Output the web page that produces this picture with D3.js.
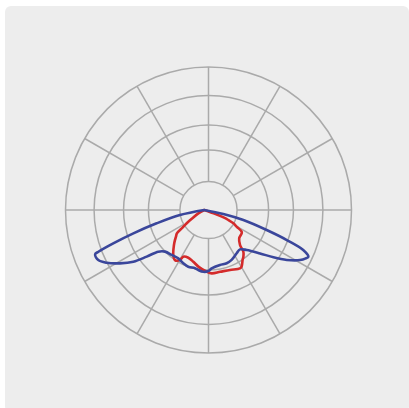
<!DOCTYPE html>
<html>
<head>
<meta charset="utf-8">
<script src="https://cdn.jsdelivr.net/npm/d3@7"></script>
<style>
  html, body { margin: 0; padding: 0; background: #ffffff; }
  svg { display: block; }
</style>
</head>
<body>
<div id="chart"></div>
<script>
// ---- data ----
// ring values (radial axis) and spoke angles (degrees, 0 = straight down)
const ringValues = [100, 210, 297, 400, 500];
const spokeAngles = [0, 30, 60, 90, 120, 150, 180, 210, 240, 270, 300, 330];

// blue series: angle (deg, 0 = down, + = right) and intensity
const blueAngles = [-90, -78.4, -74.4, -71.8, -69.9, -68.5, -67.9, -64.7, -61.6, -57.7, -53.9, -51, -47.8, -43.3, -35.9, -28.3, -21.5, -15.8, -9.1, -5.7, -0.9, 3.8, 7.2, 15.9, 22.8, 28.7, 36.8, 42.2, 46.7, 52.1, 55.6, 58.8, 62.4, 64.5, 65.8, 68, 70, 72.2, 75.6, 78.1, 90];
const blueValues = [0, 87, 173, 261, 339, 398, 412, 410, 388, 349, 307, 259, 217, 200, 194, 192, 200, 206, 206, 211, 216, 214, 206, 200, 202, 199, 189, 186, 204, 247, 293, 337, 378, 393, 399, 373, 307, 229, 141, 68, 0];

// red series
const redAngles = [-90, -60, -55, -53, -51, -49.5, -46.7, -44.3, -40.9, -34.6, -30.4, -25.9, -24.2, -18.5, -12, -6, 2.2, 6.7, 14.3, 23.2, 31.5, 33.4, 37.5, 39.9, 43.1, 45.6, 51, 58.1, 59.9, 62.7, 65.4, 67.4, 69, 70, 90];
const redValues = [0, 24, 52, 77, 98, 126, 136, 147, 162, 191, 203, 194, 179, 176, 185, 199, 216, 223, 223, 228, 239, 237, 220, 213, 200, 175, 157, 154, 151, 128, 112, 91, 70, 42, 0];

// ---- layout ----
const W = 409, H = 408;
const cx = 208.5, cy = 210;
const curveOffsetX = -4.2; // curve origin sits slightly left of the grid centre
const outerR = 143;

const svg = d3.select("#chart").append("svg")
  .attr("width", W).attr("height", H);

svg.append("rect")
  .attr("x", 5).attr("y", 6)
  .attr("width", 404).attr("height", 406)
  .attr("rx", 6).attr("ry", 6)
  .attr("fill", "#ededed");

const r = d3.scaleLinear().domain([0, 500]).range([0, outerR]);
const toRad = d => (180 - d) * Math.PI / 180; // 0 deg = down, + to the right

const grid = svg.append("g").attr("transform", `translate(${cx},${cy})`);

grid.selectAll("circle.ring").data(ringValues).join("circle")
  .attr("class", "ring")
  .attr("r", d => r(d))
  .attr("fill", "none")
  .attr("stroke", "#aaaaaa")
  .attr("stroke-width", 1.5);

grid.selectAll("line.spoke").data(spokeAngles).join("line")
  .attr("class", "spoke")
  .attr("x1", d => r(ringValues[0]) * Math.sin(toRad(d)))
  .attr("y1", d => -r(ringValues[0]) * Math.cos(toRad(d)))
  .attr("x2", d => r(ringValues[ringValues.length - 1]) * Math.sin(toRad(d)))
  .attr("y2", d => -r(ringValues[ringValues.length - 1]) * Math.cos(toRad(d)))
  .attr("stroke", "#aaaaaa")
  .attr("stroke-width", 1.5);

const curves = svg.append("g").attr("transform", `translate(${cx + curveOffsetX},${cy})`);

const radial = d3.lineRadial()
  .angle(d => toRad(d[0]))
  .radius(d => r(d[1]))
  .curve(d3.curveCatmullRom.alpha(0.5));

const series = [
  { angles: redAngles, values: redValues, color: "#d42b2b" },
  { angles: blueAngles, values: blueValues, color: "#3a469b" }
];

curves.selectAll("path.series").data(series).join("path")
  .attr("class", "series")
  .attr("d", s => radial(s.angles.map((a, i) => [a, s.values[i]])))
  .attr("fill", "none")
  .attr("stroke", s => s.color)
  .attr("stroke-width", 2.6)
  .attr("stroke-linejoin", "round")
  .attr("stroke-linecap", "round");
</script>
</body>
</html>
